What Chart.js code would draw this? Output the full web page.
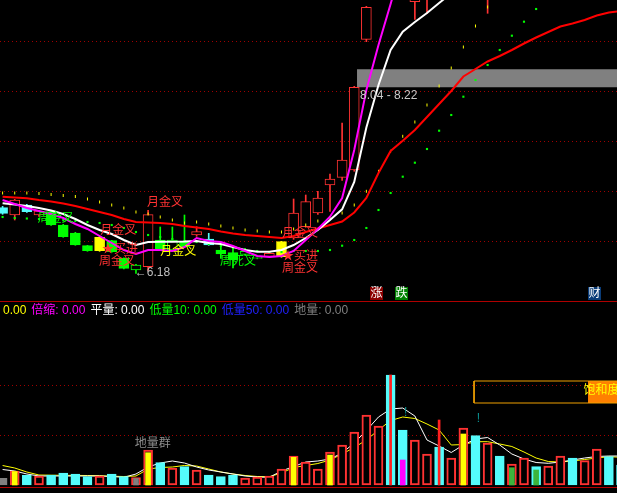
<!DOCTYPE html>
<html lang="zh">
<head>
<meta charset="utf-8">
<title>K线 量能</title>
<script src="https://cdn.jsdelivr.net/npm/chart.js@4.4.1/dist/chart.umd.min.js"></script>
<style>
  html, body { margin: 0; padding: 0; background: #000; }
  #wrap { position: relative; width: 617px; height: 493px; overflow: hidden; background: #000; }
  canvas { position: absolute; left: 0; }
  #cPrice { top: 0; }
  #cVol { top: 302px; }
  .rule { position: absolute; left: 0; width: 617px; height: 1px; background: #b00000; }
  #legend { position: absolute; left: 3px; top: 303px; font: 12px/14px "Liberation Sans", "Noto Sans CJK SC", sans-serif; white-space: nowrap; }
  #legend span { margin-right: 5px; }
</style>
</head>
<body>
<div id="wrap">
  <canvas id="cPrice" width="617" height="300"></canvas>
  <div class="rule" style="top:301px"></div>
  <canvas id="cVol" width="617" height="191"></canvas>
  <div class="rule" style="top:487px"></div>
  <div id="legend"></div>
</div>
<script>
// K线 (index 0..51)
const openP  = [6.836, 6.763, 6.863, 6.763, 6.796, 6.663, 6.583, 6.456, 6.406, 6.506, 6.330, 6.213, 6.246, 6.513, 6.413, 6.496, 6.563, 6.523, 6.413, 6.386, 6.370, 6.330, 6.350, 6.346, 6.533, 6.646, 6.783, 7.063, 7.140, 7.213, 8.520, 8.950, 9.600, 9.950, 8.896, 8.950, 9.700, 9.300, 9.500, 10.00, 9.200, 9.700, 9.400, 9.500, 9.900, 9.600, 9.500, 9.900, 9.600, 9.700, 10.10, 9.900];
const highP  = [6.850, 6.920, 6.870, 6.810, 6.800, 6.670, 6.590, 6.460, 6.550, 6.510, 6.335, 6.270, 6.810, 6.643, 6.643, 6.763, 6.646, 6.580, 6.460, 6.450, 6.430, 6.345, 6.400, 6.500, 6.923, 6.963, 7.000, 7.173, 7.683, 8.050, 8.850, 9.450, 9.700, 10.05, 9.600, 9.700, 9.800, 9.700, 10.20, 10.10, 9.800, 9.800, 9.900, 10.00, 10.00, 10.00, 10.10, 10.00, 10.00, 10.30, 10.20, 10.00];
const lowP   = [6.770, 6.713, 6.790, 6.750, 6.660, 6.540, 6.460, 6.400, 6.400, 6.390, 6.225, 6.180, 6.210, 6.410, 6.410, 6.440, 6.550, 6.460, 6.330, 6.233, 6.360, 6.325, 6.345, 6.340, 6.520, 6.640, 6.770, 6.800, 7.110, 7.200, 8.496, 8.930, 9.250, 9.450, 8.720, 8.780, 9.200, 9.200, 9.400, 9.500, 8.780, 9.300, 9.300, 9.400, 9.500, 9.500, 9.400, 9.500, 9.500, 9.600, 9.700, 9.500];
const closeP = [6.780, 6.913, 6.796, 6.803, 6.663, 6.546, 6.463, 6.406, 6.540, 6.396, 6.230, 6.263, 6.766, 6.413, 6.513, 6.446, 6.596, 6.463, 6.373, 6.313, 6.400, 6.340, 6.380, 6.496, 6.783, 6.896, 6.933, 7.123, 7.313, 8.040, 8.840, 9.400, 9.300, 9.600, 9.500, 9.600, 9.300, 9.600, 10.10, 9.600, 9.700, 9.400, 9.800, 9.900, 9.600, 9.900, 10.00, 9.600, 9.900, 10.20, 9.800, 9.600];
// u 阳线空心  d 阴线青  g 绿实  h 绿空心  y 黄
const candleKind = ['d','u','d','u','g','g','g','g','y','g','g','h','u','g','h','g','u','d','g','g','h','h','u','y','u','u','u','u','u','u','u','u','d','d','u','u','d','u','u','d','u','d','u','u','d','u','u','d','u','u','d','d'];

const maFast = [6.913, 6.873, 6.833, 6.803, 6.773, 6.733, 6.673, 6.623, 6.553, 6.483, 6.413, 6.373, 6.413, 6.413, 6.403, 6.443, 6.533, 6.503, 6.493, 6.453, 6.403, 6.353, 6.343, 6.353, 6.403, 6.513, 6.623, 6.746, 6.933, 7.413, 8.013, 8.463, 8.873, 9.30, 9.60, 9.78, 9.88, 9.93, 9.96, 9.92, 9.86, 9.80, 9.76, 9.72, 9.72, 9.74, 9.78, 9.80, 9.84, 9.88, 9.92, 9.95];
const maMid  = [6.880, 6.868, 6.853, 6.833, 6.808, 6.773, 6.723, 6.663, 6.613, 6.573, 6.513, 6.463, 6.493, 6.496, 6.496, 6.498, 6.503, 6.483, 6.473, 6.443, 6.413, 6.396, 6.396, 6.413, 6.463, 6.533, 6.613, 6.713, 6.820, 7.093, 7.637, 8.063, 8.413, 8.596, 8.693, 8.783, 8.883, 8.980, 9.070, 9.160, 9.250, 9.330, 9.400, 9.460, 9.520, 9.570, 9.620, 9.660, 9.700, 9.730, 9.760, 9.790];
const maSlow = [6.946, 6.938, 6.931, 6.913, 6.898, 6.878, 6.853, 6.823, 6.793, 6.763, 6.723, 6.693, 6.688, 6.683, 6.673, 6.653, 6.638, 6.623, 6.598, 6.578, 6.563, 6.553, 6.543, 6.533, 6.553, 6.593, 6.628, 6.663, 6.698, 6.788, 6.933, 7.183, 7.403, 7.505, 7.613, 7.743, 7.873, 8.003, 8.148, 8.223, 8.298, 8.353, 8.413, 8.478, 8.538, 8.593, 8.648, 8.678, 8.713, 8.758, 8.788, 8.803];
const dotsUp = [6.983, 6.983, 6.983, 6.978, 6.968, 6.958, 6.948, 6.923, 6.893, 6.863, 6.833, 6.793, 6.773, 6.743, 6.713, 6.683, 6.693, 6.673, 6.653, 6.633, 6.613, 6.603, 6.593, 6.593, 6.623, 6.663, 6.703, 6.733, 6.783, 6.863, 7.000, 7.200, 7.400, 7.550, 7.693, 7.863, 8.053, 8.233, 8.443, 8.653, 8.843];
const dotsDn = [6.743, 6.733, 6.728, 6.723, 6.718, 6.713, 6.703, 6.693, 6.683, 6.663, 6.633, 6.593, 6.563, 6.543, 6.523, 6.503, 6.493, 6.473, 6.453, 6.433, 6.413, 6.403, 6.393, 6.393, 6.403, 6.403, 6.403, 6.413, 6.456, 6.513, 6.633, 6.813, 6.983, 7.146, 7.286, 7.423, 7.606, 7.763, 7.946, 8.113, 8.263, 8.413, 8.556, 8.696, 8.823, 8.963];

const zoneLow = 8.04;
const zoneHigh = 8.22;
const zoneStart = 29.23;
const priceGrid = [6.5, 7.0, 7.5, 8.0, 8.5];

const priceNotes = [
  { i: 2.9,   v: 6.723, text: '周金叉', color: '#00ff00' },
  { i: 8.05,  v: 6.603, text: '月金叉', color: '#ff3232' },
  { i: 11.9,  v: 6.883, text: '月金叉', color: '#ff3232' },
  { i: 8.2,   v: 6.413, text: '★买进', color: '#ff3232' },
  { i: 7.95,  v: 6.293, text: '周金叉', color: '#ff3232' },
  { i: 10.9,  v: 6.183, text: '←6.18', color: '#c0c0c0' },
  { i: 13.0,  v: 6.393, text: '月金叉', color: '#ffff00' },
  { i: 17.93, v: 6.293, text: '周死叉', color: '#00ff00' },
  { i: 23.04, v: 6.573, text: '月金叉', color: '#ff3232' },
  { i: 23.04, v: 6.343, text: '★买进', color: '#ff3232' },
  { i: 23.04, v: 6.223, text: '周金叉', color: '#ff3232' },
  { i: 29.48, v: 7.953, text: '8.04 - 8.22', color: '#c8c8c8' },
  { i: 30.3,  v: 5.978, text: '涨', color: '#ffffff', bg: '#8b0000' },
  { i: 32.36, v: 5.978, text: '跌', color: '#ffffff', bg: '#008000' },
  { i: 48.28, v: 5.978, text: '财', color: '#ffffff', bg: '#0a3c78' }
];

// 成交量
const volume = [0.133, 0.28, 0.193, 0.18, 0.2, 0.24, 0.22, 0.166, 0.18, 0.22, 0.166, 0.146, 0.7, 0.446, 0.34, 0.366, 0.3, 0.2, 0.166, 0.2, 0.14, 0.16, 0.18, 0.32, 0.58, 0.46, 0.32, 0.66, 0.8, 1.06, 1.4, 1.18, 2.2, 1.1, 0.9, 0.62, 0.76, 0.54, 1.14, 0.986, 0.84, 0.58, 0.42, 0.54, 0.366, 0.38, 0.58, 0.54, 0.486, 0.72, 0.566, 0.4];
const volKind = ['k','u','d','u','d','d','d','d','u','d','d','u','u','d','u','d','u','d','d','d','u','u','u','u','u','u','u','u','u','u','u','u','d','d','u','u','d','u','u','d','u','d','u','u','d','u','u','d','u','u','d','d'];
const volInner = [null, 0.27, null, null, null, null, null, null, null, null, null, 0.13, 0.646, null, null, null, null, null, null, null, null, null, null, null, 0.553, null, null, 0.6, null, null, null, null, null, 0.5, null, null, null, null, 1.02, null, null, null, 0.346, null, 0.3, null, null, null, null, null, null, null];
const volInnerKind = ['', 'y', '', '', '', '', '', '', '', '', '', 'k', 'y', '', '', '', '', '', '', '', '', '', '', '', 'y', '', '', 'y', '', '', '', '', '', 'm', '', '', '', '', 'y', '', '', '', 'g', '', 'g', '', '', '', '', '', '', ''];
const volSpike = [null, null, null, null, null, null, null, null, null, null, null, null, null, null, null, null, null, null, null, null, null, null, null, null, null, null, null, null, null, null, null, null, 2.2, null, null, null, 1.3, null, null, null, null, null, null, null, null, null, null, null, null, null, null, null];
const volMa5  = [0.31, 0.28, 0.22, 0.18, 0.18, 0.18, 0.18, 0.18, 0.18, 0.17, 0.154, 0.22, 0.36, 0.44, 0.48, 0.44, 0.36, 0.3, 0.26, 0.22, 0.18, 0.16, 0.154, 0.28, 0.37, 0.46, 0.48, 0.52, 0.64, 0.84, 1.09, 1.36, 1.52, 1.54, 1.38, 0.9, 0.78, 0.65, 0.8, 0.92, 0.95, 0.8, 0.62, 0.52, 0.45, 0.434, 0.46, 0.5, 0.54, 0.57, 0.58, 0.58];
const volMa10 = [0.39, 0.34, 0.26, 0.2, 0.196, 0.194, 0.192, 0.19, 0.186, 0.176, 0.17, 0.18, 0.32, 0.35, 0.36, 0.39, 0.38, 0.32, 0.26, 0.22, 0.19, 0.17, 0.166, 0.24, 0.35, 0.39, 0.43, 0.5, 0.62, 0.75, 0.9, 1.1, 1.29, 1.36, 1.33, 1.22, 1.1, 0.8, 0.81, 0.866, 0.866, 0.82, 0.77, 0.66, 0.54, 0.47, 0.46, 0.48, 0.51, 0.54, 0.566, 0.554];
const volGrid = [1, 2];

// 饱和度 框
const satFrom = 38.88, satTo = 51.5, satFillFrom = 48.28;
const satLow = 1.64, satHigh = 2.08;

const volNotes = [
  { i: 10.9, v: 0.82, text: '地量群', color: '#8c8c8c' },
  { i: 33.1, v: 1.44, text: '!', color: '#0a9090' },
  { i: 39.1, v: 1.32, text: '!', color: '#0a9090' },
  { i: 47.9, v: 1.88, text: '饱和度', color: '#ffff00' }
];

const legendText  = ['0.00', '倍缩: 0.00', '平量: 0.00', '低量10: 0.00', '低量50: 0.00', '地量: 0.00'];
const legendColor = ['#ffff00', '#ff00ff', '#ffffff', '#00ff00', '#2020ff', '#808080'];

const X_MIN = -0.214, X_MAX = 50.67;
const GRID_RED = '#a00000';
const NOTE_FONT = '12px "Liberation Sans", "Noto Sans CJK SC", sans-serif';

const RED = '#ff3232', CYAN = '#54fcfc', GREEN = '#00ff00', YELLOW = '#ffff00';
const BODY_FILL = { u: '#000000', d: CYAN, g: GREEN, h: '#000000', y: YELLOW };
const BODY_LINE = { u: RED, d: CYAN, g: GREEN, h: GREEN, y: YELLOW };
const VOL_FILL = { u: '#000000', d: CYAN, k: '#808080' };
const VOL_LINE = { u: RED, d: CYAN, k: '#808080' };
const INNER_FILL = { y: YELLOW, k: '#808080', m: '#ff00ff', g: '#3cb43c' };

document.getElementById('legend').innerHTML = legendText
  .map((t, i) => `<span style="color:${legendColor[i]}">${t}</span>`).join('');

const xy = arr => arr.map((v, i) => ({ x: i, y: v })).filter(d => d.y !== null);
const xyRange = (a, b) => a.map((v, i) => ({ x: i, y: [v, b[i]] }));

function yScale(min, max, gridVals) {
  return {
    type: 'linear', min, max,
    afterBuildTicks: s => { s.ticks = gridVals.map(v => ({ value: v })); },
    ticks: { display: false },
    grid: { color: GRID_RED, drawTicks: false, lineWidth: 1 },
    border: { display: false, dash: [1, 3] }
  };
}

function notesPlugin(id, notes) {
  return {
    id,
    afterDatasetsDraw(chart) {
      const { ctx, scales } = chart;
      ctx.save();
      ctx.textBaseline = 'middle';
      ctx.font = NOTE_FONT;
      notes.forEach(n => {
        const px = scales.x.getPixelForValue(n.i);
        const py = scales.y.getPixelForValue(n.v);
        if (n.bg) {
          ctx.fillStyle = n.bg;
          ctx.fillRect(Math.round(px), Math.round(py - 6.5), 13, 13);
        }
        ctx.fillStyle = n.color;
        ctx.fillText(n.text, px + (n.bg ? 0.5 : 0), py);
      });
      ctx.restore();
    }
  };
}

const baseOptions = (yOpts, padding) => ({
  responsive: false,
  animation: false,
  events: [],
  layout: { autoPadding: false, padding },
  plugins: { legend: { display: false }, tooltip: { enabled: false } },
  scales: {
    x: { type: 'linear', min: X_MIN, max: X_MAX, offset: false, display: false },
    y: yOpts
  }
});

const lineDs = (data, color, width, order) => ({
  type: 'line', data: xy(data), borderColor: color, borderWidth: width,
  pointRadius: 0, tension: 0, fill: false, order
});

// 主图
new Chart(document.getElementById('cPrice'), {
  type: 'bar',
  data: {
    datasets: [
      {
        type: 'line', data: [{ x: zoneStart, y: zoneHigh }, { x: X_MAX + 2, y: zoneHigh }],
        fill: { value: zoneLow }, backgroundColor: '#808080', borderWidth: 0, pointRadius: 0, order: 10
      },
      {
        data: xyRange(lowP, highP), backgroundColor: candleKind.map(k => BODY_LINE[k]),
        barThickness: 1, grouped: false, order: 9
      },
      {
        data: xyRange(openP, closeP),
        backgroundColor: candleKind.map(k => BODY_FILL[k]),
        borderColor: candleKind.map(k => BODY_LINE[k]),
        borderWidth: 1, borderSkipped: false, barThickness: 10, grouped: false, order: 8
      },
      {
        type: 'line', data: xy(dotsUp), showLine: false, pointStyle: 'line', pointRotation: 90,
        pointRadius: 1.5, borderColor: YELLOW, pointBorderColor: YELLOW, pointBorderWidth: 1, order: 7
      },
      {
        type: 'line', data: xy(dotsDn), showLine: false, pointStyle: 'rect',
        pointRadius: 1.5, pointBackgroundColor: GREEN, pointBorderWidth: 0, order: 7
      },
      lineDs(maSlow, '#ff0000', 2, 6),
      lineDs(maMid, '#ffffff', 2, 5),
      lineDs(maFast, '#ff00ff', 2, 4)
    ]
  },
  options: baseOptions(yScale(5.913, 8.913, priceGrid), 0),
  plugins: [notesPlugin('priceNotes', priceNotes)]
});

// 副图 成交量
new Chart(document.getElementById('cVol'), {
  type: 'bar',
  data: {
    datasets: [
      lineDs(volMa10, YELLOW, 1, 9),
      lineDs(volMa5, '#ffffff', 1, 8),
      {
        data: xy(volume),
        backgroundColor: volKind.map(k => VOL_FILL[k]),
        borderColor: volKind.map(k => VOL_LINE[k]),
        borderWidth: 2, borderSkipped: false, barThickness: 9, grouped: false, order: 5
      },
      {
        data: xy(volInner), backgroundColor: c => INNER_FILL[volInnerKind[c.raw.x]],
        barThickness: 5, grouped: false, order: 4
      },
      {
        data: xy(volSpike), backgroundColor: '#ff2020', barThickness: 2, grouped: false, order: 3
      },
      {
        type: 'line', data: [{ x: satFillFrom, y: satHigh }, { x: satTo, y: satHigh }],
        fill: { value: satLow }, backgroundColor: '#ff8000', borderWidth: 0, pointRadius: 0, order: 2
      },
      {
        type: 'line',
        data: [{ x: satFrom, y: satLow }, { x: satTo, y: satLow }, { x: satTo, y: satHigh }, { x: satFrom, y: satHigh }, { x: satFrom, y: satLow }],
        borderColor: '#f0a000', borderWidth: 1, pointRadius: 0, fill: false, tension: 0, order: 1
      }
    ]
  },
  options: baseOptions(yScale(-0.04, 3.3, volGrid), { top: 18, bottom: 6, left: 0, right: 0 }),
  plugins: [notesPlugin('volNotes', volNotes)]
});
</script>
</body>
</html>
